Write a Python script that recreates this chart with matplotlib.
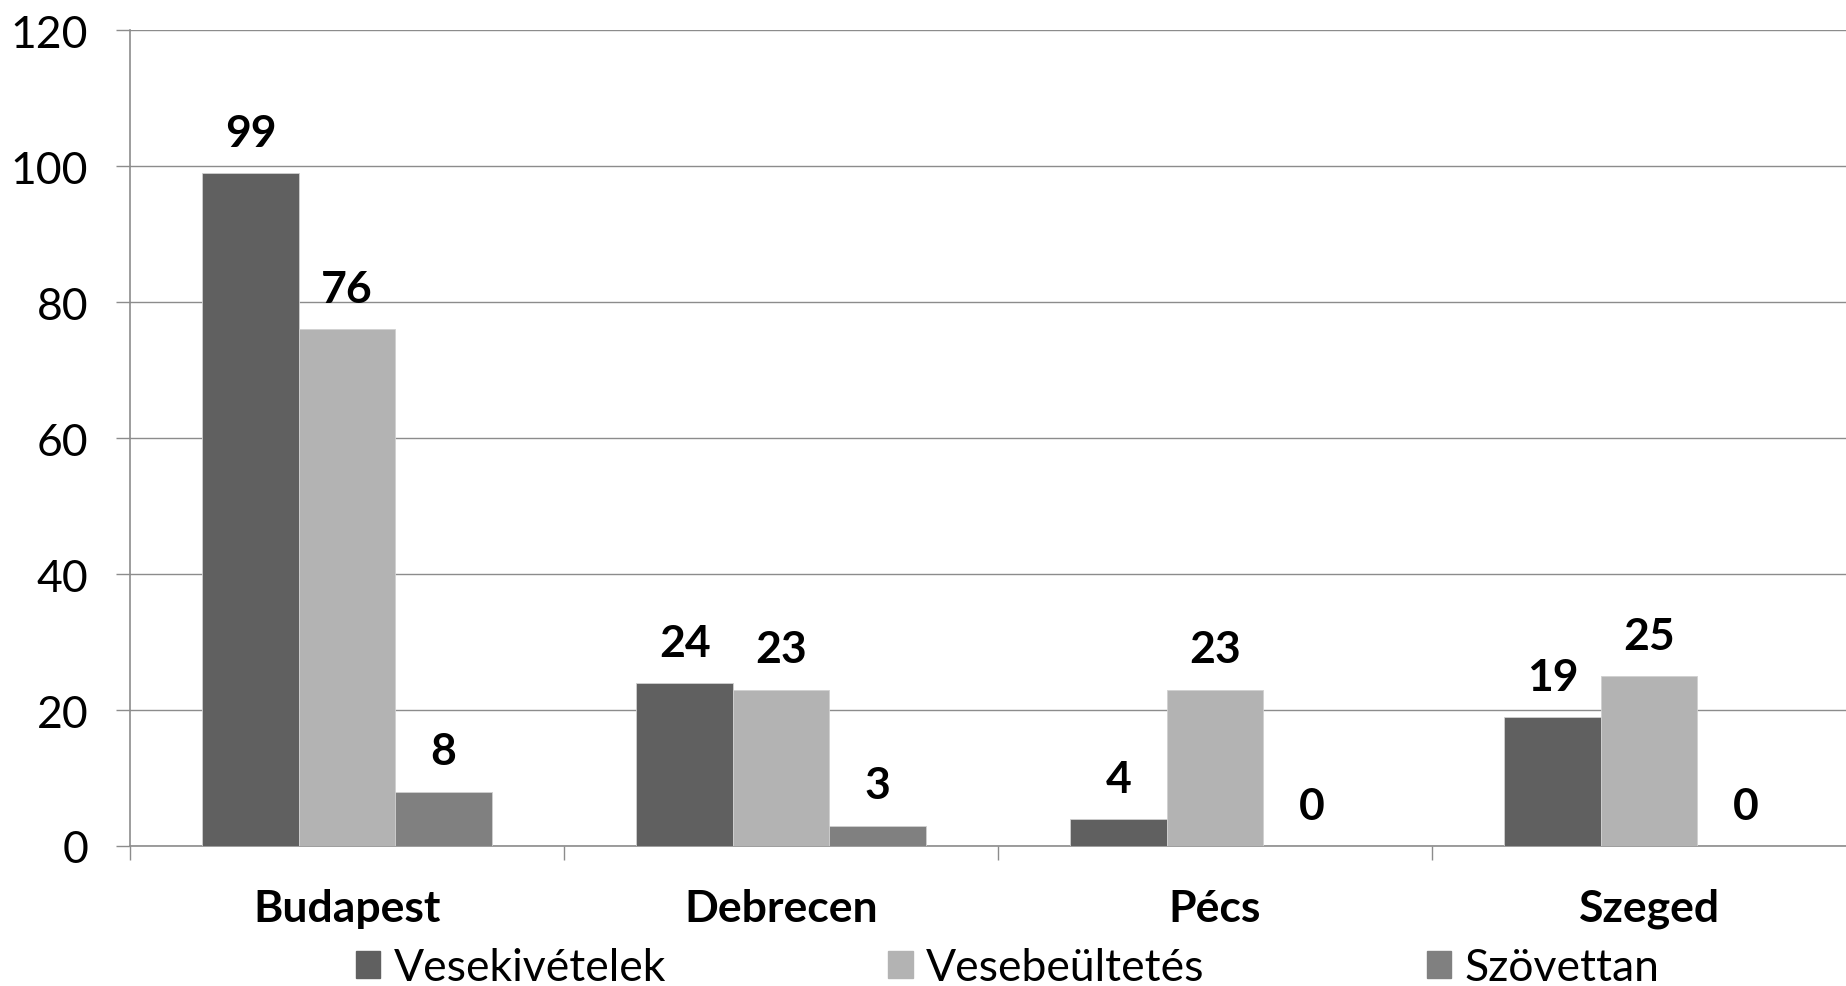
import matplotlib.pyplot as plt
from matplotlib.patches import Patch
import numpy as np

plt.rcParams['font.family'] = ['Lato', 'DejaVu Sans']

cities = ['Budapest', 'Debrecen', 'Pécs', 'Szeged']
series_names = ['Vesekivételek', 'Vesebeültetés', 'Szövettan']
vesekivetelek = [99, 24, 4, 19]
vesebeultetes = [76, 23, 23, 25]
szovettan = [8, 3, 0, 0]
colors = ['#606060', '#b3b3b3', '#808080']

FS = 32
W, H = 1846, 987
fig = plt.figure(figsize=(W / 100, H / 100), dpi=100)
# axes runs a bit past the right edge, as in the original
ax = fig.add_axes([130 / W, 1 - 847 / H, (1866 - 130) / W, (847 - 31) / H])

x = np.arange(len(cities))
width = 0.222
for k, vals in enumerate([vesekivetelek, vesebeultetes, szovettan]):
    pos = x + (k - 1) * width
    ax.bar(pos, vals, width, color=colors[k], edgecolor='#d0d0d0',
           linewidth=0.6, label=series_names[k], zorder=3)
    for px, v in zip(pos, vals):
        ax.annotate(str(v), (px, v), xytext=(0, 29), textcoords='offset points',
                    ha='center', va='center', fontsize=FS, fontweight='bold')

ax.set_xlim(-0.5, 3.5)
ax.set_ylim(0, 120)
ax.set_yticks(range(0, 121, 20))
ax.yaxis.grid(True, color='#8c8c8c', linewidth=1.0, zorder=0)
ax.set_axisbelow(True)

ax.set_xticks([-0.5, 0.5, 1.5, 2.5, 3.5])
ax.set_xticklabels([])
ax.set_xticks(x, minor=True)
ax.set_xticklabels(cities, minor=True, fontsize=FS, fontweight='bold')
ax.tick_params(axis='x', which='minor', length=0, pad=30)
ax.tick_params(axis='x', which='major', length=10, width=1.0, color='#8c8c8c')
ax.tick_params(axis='y', length=10, width=1.0, color='#8c8c8c',
               labelsize=FS, pad=20)

for s in ['top', 'right']:
    ax.spines[s].set_visible(False)
for s in ['left', 'bottom']:
    ax.spines[s].set_color('#8c8c8c')
    ax.spines[s].set_linewidth(1.2)

handles = [Patch(color=c) for c in colors]
fig.legend(handles, series_names, loc='center left',
           bbox_to_anchor=(356 / W, 1 - 969 / H), ncol=3, frameon=False,
           fontsize=FS, handlelength=0.55, handleheight=0.55, handletextpad=0.3,
           columnspacing=5.0, borderpad=0, borderaxespad=0)

fig.savefig('out.png', dpi=100)
